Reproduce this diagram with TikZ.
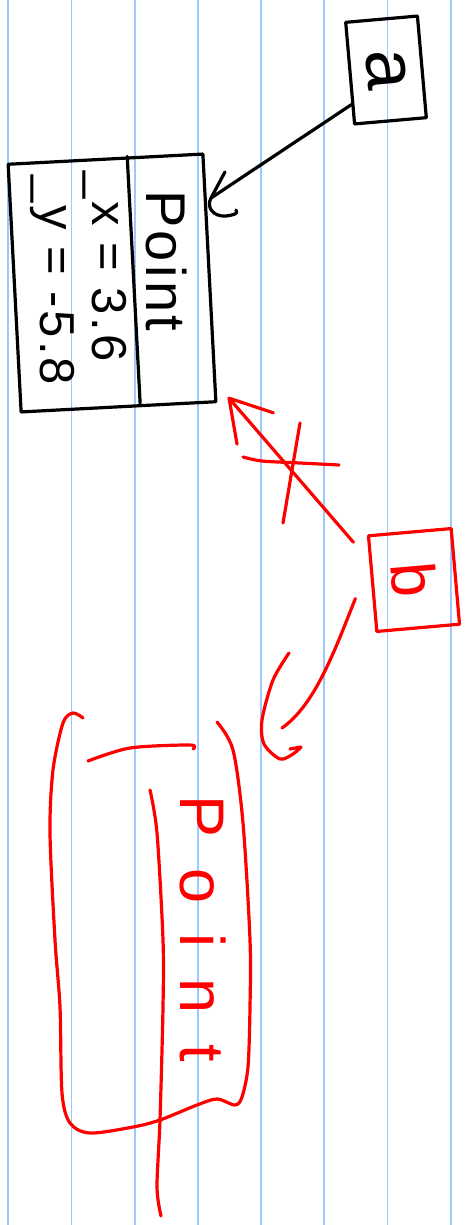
\documentclass[tikz,border=0pt]{standalone}
\usepackage{graphicx}
\usepackage{fontspec}
\setmainfont{Liberation Sans}
\newfontfamily\handfont[LetterSpace=6]{Liberation Sans}
\newfontfamily\widehandfont[LetterSpace=49]{Liberation Sans}
\usetikzlibrary{calc,arrows.meta}
\definecolor{inkred}{RGB}{255,0,0}
\definecolor{ruleblue}{RGB}{155,200,255}
\tikzset{
  pen/.style={line width=3.2pt, line cap=round, line join=round},
  blackpen/.style={pen, draw=black},
  redpen/.style={pen, draw=inkred},
  rule/.style={draw=ruleblue, line width=1.8pt},
  sketchbox/.style={draw, line width=3.2pt, line join=round, inner sep=0pt},
  field/.style={inner sep=0pt, rotate=-90, anchor=base west}
}
\newcommand{\handsize}[1]{\fontsize{#1}{#1}\selectfont}

\begin{document}
\begin{tikzpicture}[x=1pt, y=-1pt]
  \useasboundingbox (0,0) rectangle (474,1225);
  \fill[white] (0,0) rectangle (474,1225);
  % ruled paper
  \foreach \i in {0,...,7}
    \draw[rule] (8.2+63.2*\i,0) -- (8.2+63.2*\i,1225);

  % object with its fields
  \node[sketchbox, rotate=3, minimum width=195pt, minimum height=248pt] (pt) at (112,283) {};
  \draw[blackpen, shorten >=4pt] ($(pt.north west)!0.61!(pt.north east)$) -- ($(pt.south west)!0.61!(pt.south east)$);
  \node[field, font=\handfont\handsize{56}] (pt-name) at (146,190) {Point};
  \node[field, font=\handfont\handsize{49}] (pt-x) at (92,171) {\_x = 3.6};
  \node[field, font=\handfont\handsize{49}] (pt-y) at (40,175) {\_y = -5.8};

  % variable a
  \node[sketchbox, rotate=5, minimum width=72pt, minimum height=102pt, font=\handsize{72}] (a) at (386,70) {\rotatebox{-90}{a}};
  \coordinate (a-tip) at (211,198);
  \draw[blackpen] (a.220) -- (a-tip);
  \draw[blackpen] (225,172) -- (a-tip) .. controls (206,207) and (213,217) .. (226,216) .. controls (233,215) and (239,214) .. (236,210);

  % variable b
  \node[sketchbox, draw=inkred, text=inkred, rotate=5, minimum width=83pt, minimum height=96pt, font=\handsize{62}] (b) at (414,580) {\rotatebox{-90}{b}};
  \coordinate (b-tip) at (228,397);
  \draw[redpen, -{Straight Barb[length=40pt, width=48pt, round]}] ([xshift=-14pt]b.136) -- (b-tip);
  % crossed out
  \draw[redpen] (283,523) -- (300,423);
  \draw[redpen] plot[smooth] coordinates {(243,457) (262,461) (300,463) (339,465)};

  \coordinate (b-end) at (282,728);
  \draw[redpen] ([xshift=-17pt]b.199) .. controls (335,650) and (315,705) .. (b-end);
  \draw[redpen] plot[smooth] coordinates {(289,653) (273,680) (262,720) (264,744) (280,759) (293,754) (301,747)} -- (290,749);

  % new object
  \draw[redpen] plot[smooth] coordinates {(83,718) (73,713) (63,723) (53,770) (50,833) (55,940) (60,1007) (62,1093) (70,1123) (90,1133) (133,1127) (160,1120) (197,1105) (217,1099) (235,1105) (242,1097) (248,1067) (250,1007) (250,940) (243,823) (233,750) (217,722)};
  \draw[redpen] plot[smooth] coordinates {(88,761) (130,748) (190,745) (193,749)};
  \draw[redpen] plot[smooth] coordinates {(150,790) (157,833) (163,940) (163,1007) (160,1120) (157,1187) (161,1216)};
  \node[field, font=\widehandfont\handsize{63}, text=inkred] (new-pt) at (180,795) {Point};
\end{tikzpicture}
\end{document}
